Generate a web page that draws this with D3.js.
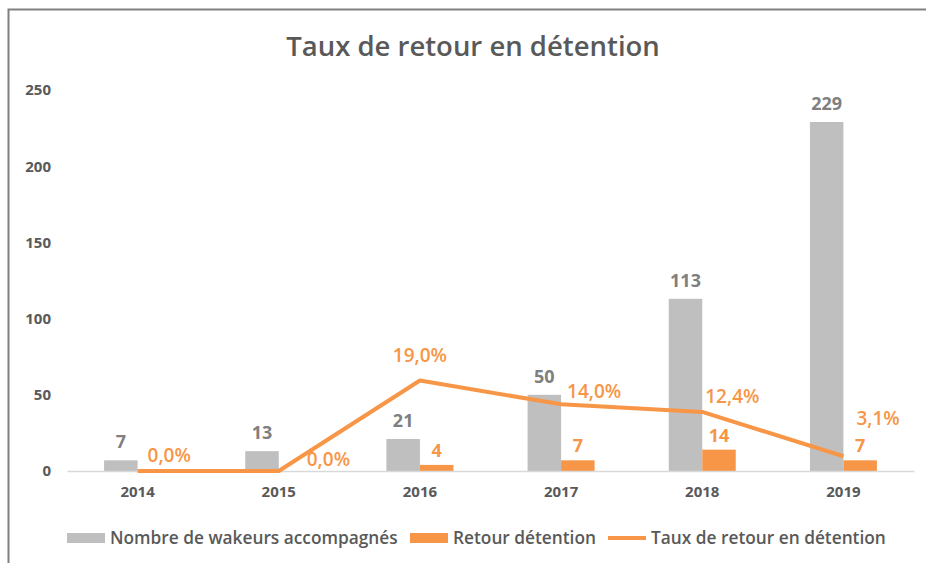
<!DOCTYPE html>
<html>
<head>
<meta charset="utf-8">
<script src="https://cdn.jsdelivr.net/npm/d3@7"></script>
<style>
  body { margin: 0; background: #fff; }
  text { font-family: "Open Sans", sans-serif; }
</style>
</head>
<body>
<div id="chart"></div>
<script>
// data
var years = ["2014", "2015", "2016", "2017", "2018", "2019"];
var wakeurs = [7, 13, 21, 50, 113, 229];
var retours = [0, 0, 4, 7, 14, 7];
var taux = [0.0, 0.0, 0.19, 0.14, 0.124, 0.031];
var yTicks = [0, 50, 100, 150, 200, 250];
var seriesNames = ["Nombre de wakeurs accompagnés", "Retour détention", "Taux de retour en détention"];

// label placement for the line labels (dx, dy from the point)
var tauxLabelPos = [
  {dx: 10, dy: -9, anchor: "start"},
  {dx: 28, dy: -5, anchor: "start"},
  {dx: 0, dy: -19, anchor: "middle"},
  {dx: 6, dy: -6, anchor: "start"},
  {dx: 3, dy: -9, anchor: "start"},
  {dx: 13, dy: -31, anchor: "start"}
];

var svgWidth = 926, svgHeight = 563;
var gray = "#bfbfbf", orange = "#f79646", textGray = "#595959";

var svg = d3.select("#chart").append("svg")
  .attr("width", svgWidth)
  .attr("height", svgHeight);

// chart border (only top and left visible)
svg.append("rect")
  .attr("x", 8.5).attr("y", 9.5)
  .attr("width", 1000).attr("height", 600)
  .attr("fill", "none")
  .attr("stroke", "#808080")
  .attr("stroke-width", 2);

// title
svg.append("text")
  .attr("x", 473).attr("y", 56)
  .attr("text-anchor", "middle")
  .attr("font-size", "27.5px")
  .attr("font-weight", 600)
  .attr("fill", textGray)
  .text("Taux de retour en détention");

// scales
var x0 = d3.scaleBand().domain(years).range([67, 914]);
var x1 = d3.scaleBand().domain(["w", "r"]).range([0, x0.bandwidth()]).paddingOuter(1.107);
var y = d3.scaleLinear().domain([0, 250]).range([471, 90]);
var y2 = d3.scaleLinear().domain([0, 0.8]).range([471, 90]);

// y axis labels (no line)
var yAxis = svg.append("g")
  .attr("transform", "translate(51,0)")
  .call(d3.axisLeft(y).tickValues(yTicks).tickSize(0).tickPadding(0));
yAxis.select(".domain").remove();
yAxis.selectAll("text")
  .attr("font-size", "15px")
  .attr("font-weight", 700)
  .attr("fill", textGray)
  .style("font-family", "'Open Sans', sans-serif");

// bars
var groups = svg.selectAll(".year")
  .data(years)
  .enter().append("g")
  .attr("transform", function(d) { return "translate(" + x0(d) + ",0)"; });

groups.append("rect")
  .attr("x", x1("w"))
  .attr("width", x1.bandwidth())
  .attr("y", function(d, i) { return y(wakeurs[i]); })
  .attr("height", function(d, i) { return y(0) - y(wakeurs[i]); })
  .attr("fill", gray);

groups.append("rect")
  .attr("x", x1("r"))
  .attr("width", x1.bandwidth())
  .attr("y", function(d, i) { return y(retours[i]); })
  .attr("height", function(d, i) { return y(0) - y(retours[i]); })
  .attr("fill", orange);

// x axis
var xAxis = svg.append("g")
  .attr("transform", "translate(0,471)")
  .call(d3.axisBottom(x0).tickSize(0).tickPadding(15));
xAxis.select(".domain").attr("stroke", "#d9d9d9").attr("stroke-width", 1.5);
xAxis.selectAll("text")
  .attr("font-size", "15px")
  .attr("font-weight", 700)
  .attr("fill", textGray)
  .style("font-family", "'Open Sans', sans-serif");

// bar labels
groups.append("text")
  .attr("x", x1("w") + x1.bandwidth() / 2)
  .attr("y", function(d, i) { return y(wakeurs[i]) - 12; })
  .attr("text-anchor", "middle")
  .attr("font-size", "18px")
  .attr("font-weight", 700)
  .attr("fill", "#7f7f7f")
  .text(function(d, i) { return wakeurs[i]; });

groups.filter(function(d, i) { return retours[i] > 0; })
  .append("text")
  .attr("x", x1("r") + x1.bandwidth() / 2)
  .attr("y", function(d) { return y(retours[years.indexOf(d)]) - 8; })
  .attr("text-anchor", "middle")
  .attr("font-size", "18px")
  .attr("font-weight", 700)
  .attr("fill", orange)
  .text(function(d) { return retours[years.indexOf(d)]; });

// line
var cx = function(i) { return x0(years[i]) + x0.bandwidth() / 2; };
var line = d3.line()
  .x(function(d, i) { return cx(i); })
  .y(function(d) { return y2(d); });

svg.append("path")
  .datum(taux)
  .attr("d", line)
  .attr("fill", "none")
  .attr("stroke", orange)
  .attr("stroke-width", 4)
  .attr("stroke-linejoin", "round");

var fmt = function(v) { return (v * 100).toFixed(1).replace(".", ",") + "%"; };
svg.selectAll(".tauxLabel")
  .data(taux)
  .enter().append("text")
  .attr("x", function(d, i) { return cx(i) + tauxLabelPos[i].dx; })
  .attr("y", function(d, i) { return y2(d) + tauxLabelPos[i].dy; })
  .attr("text-anchor", function(d, i) { return tauxLabelPos[i].anchor; })
  .attr("font-size", "19px")
  .attr("font-weight", 600)
  .attr("fill", orange)
  .text(fmt);

// legend
var legend = svg.append("g").attr("transform", "translate(0,538)");
var legendX = [67, 410, 608];
seriesNames.forEach(function(name, i) {
  var g = legend.append("g").attr("transform", "translate(" + legendX[i] + ",0)");
  if (i < 2) {
    g.append("rect").attr("x", 0).attr("y", -5).attr("width", 38).attr("height", 10)
      .attr("fill", i === 0 ? gray : orange);
  } else {
    g.append("line").attr("x1", 0).attr("x2", 38).attr("y1", 0).attr("y2", 0)
      .attr("stroke", orange).attr("stroke-width", 4);
  }
  g.append("text")
    .attr("x", 43).attr("y", 6)
    .attr("font-size", "17.3px")
    .attr("font-weight", 600)
    .attr("fill", textGray)
    .text(name);
});
</script>
</body>
</html>
